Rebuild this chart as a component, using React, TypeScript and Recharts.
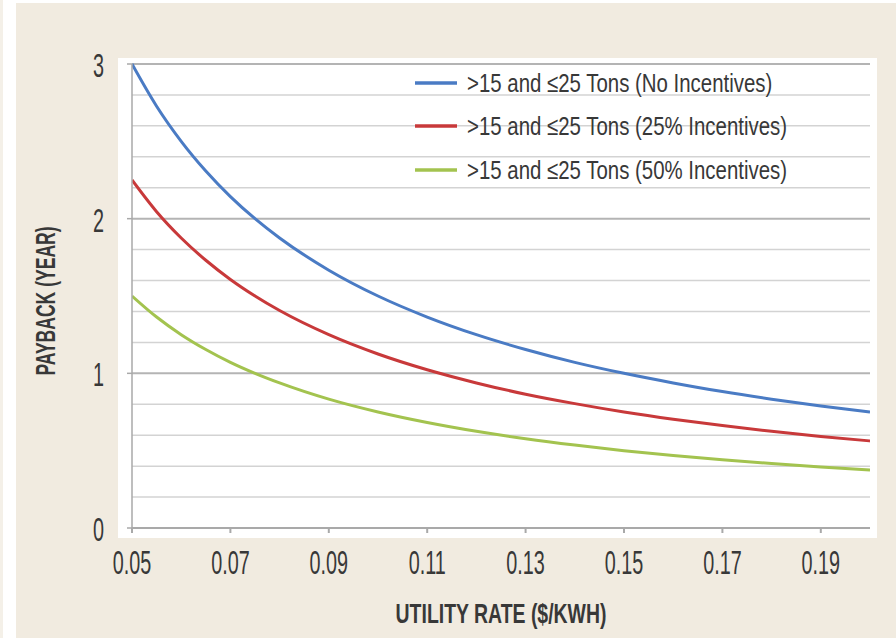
import React from "react";
import { LineChart, Line, XAxis, YAxis, ReferenceLine, Label, Legend } from "recharts";

const rates = [0.05, 0.055, 0.06, 0.065, 0.07, 0.075, 0.08, 0.09, 0.1, 0.11, 0.12, 0.13, 0.14, 0.15, 0.16, 0.17, 0.18, 0.19, 0.2];
const noIncentives = [3.0, 2.727, 2.5, 2.308, 2.143, 2.0, 1.875, 1.667, 1.5, 1.364, 1.25, 1.154, 1.071, 1.0, 0.938, 0.882, 0.833, 0.789, 0.75];
const incentives25 = [2.25, 2.045, 1.875, 1.731, 1.607, 1.5, 1.406, 1.25, 1.125, 1.023, 0.938, 0.865, 0.804, 0.75, 0.703, 0.662, 0.625, 0.592, 0.563];
const incentives50 = [1.5, 1.364, 1.25, 1.154, 1.071, 1.0, 0.938, 0.833, 0.75, 0.682, 0.625, 0.577, 0.536, 0.5, 0.469, 0.441, 0.417, 0.395, 0.375];

const seriesNames = [
  ">15 and \u226425 Tons (No Incentives)",
  ">15 and \u226425 Tons (25% Incentives)",
  ">15 and \u226425 Tons (50% Incentives)",
];
const seriesKeys = ["none", "p25", "p50"];
const seriesColors = ["#4a7bc4", "#c8393a", "#a3c34f"];

const xTicks = [0.05, 0.07, 0.09, 0.11, 0.13, 0.15, 0.17, 0.19];
const xTickLabels = ["0.05", "0.07", "0.09", "0.11", "0.13", "0.15", "0.17", "0.19"];
const yTicks = [0, 1, 2, 3];
const gridValues = [0.2, 0.4, 0.6, 0.8, 1, 1.2, 1.4, 1.6, 1.8, 2, 2.2, 2.4, 2.6, 2.8, 3];

const data = rates.map((r, i) => ({
  rate: r,
  none: noIncentives[i],
  p25: incentives25[i],
  p50: incentives50[i],
}));

const FONT = "'Liberation Sans Narrow', 'Liberation Sans', Arial, sans-serif";
const TEXT = "#383838";
const BEIGE = "#f1ebe0";
const AXIS = "#a9a9a9";

const XTick = (props: any) => {
  const { x, y, payload } = props;
  const idx = xTicks.indexOf(payload.value);
  return (
    <g transform={`translate(${x},${y + 39})`}>
      <text transform="scale(0.6,1)" textAnchor="middle" fontFamily={FONT} fontSize={33} fill={TEXT}>
        {idx >= 0 ? xTickLabels[idx] : String(payload.value)}
      </text>
    </g>
  );
};

const YTick = (props: any) => {
  const { x, y, payload } = props;
  return (
    <g transform={`translate(${x - 21},${y + 13})`}>
      <text transform="scale(0.6,1)" textAnchor="end" fontFamily={FONT} fontSize={33} fill={TEXT}>
        {String(payload.value)}
      </text>
    </g>
  );
};

const XTitle = (props: any) => {
  const vb = props.viewBox;
  return (
    <g transform={`translate(${vb.x + vb.width / 2},${vb.y + 95})`}>
      <text transform="scale(0.72,1)" textAnchor="middle" fontFamily={FONT} fontWeight="bold" fontSize={27} fill={TEXT}>
        UTILITY RATE ($/KWH)
      </text>
    </g>
  );
};

const YTitle = (props: any) => {
  const vb = props.viewBox;
  return (
    <g transform={`translate(${vb.x + 23},${vb.y + vb.height / 2 + 5}) rotate(-90)`}>
      <text transform="scale(0.65,1)" textAnchor="middle" fontFamily={FONT} fontWeight="bold" fontSize={27} fill={TEXT}>
        PAYBACK (YEAR)
      </text>
    </g>
  );
};

const LegendContent = () => (
  <div style={{ display: "flex", flexDirection: "column" }}>
    {seriesNames.map((name, i) => (
      <div key={name} style={{ height: 43.5, display: "flex", alignItems: "center" }}>
        <svg width={52} height={10} style={{ display: "block", flexShrink: 0 }}>
          <line x1={0} y1={5} x2={42} y2={5} stroke={seriesColors[i]} strokeWidth={3.5} />
        </svg>
        <span
          style={{
            fontFamily: FONT,
            fontSize: 26,
            color: TEXT,
            display: "inline-block",
            transform: "scaleX(0.785)",
            transformOrigin: "left center",
            whiteSpace: "nowrap",
            lineHeight: "26px",
          }}
        >
          {name}
        </span>
      </div>
    ))}
  </div>
);

export default function App() {
  return (
    <div style={{ position: "absolute", left: 0, top: 0, width: 896, height: 638, background: "#ffffff", overflow: "hidden" }}>
      <div style={{ position: "absolute", left: 0, top: 0, width: 3, height: 638, background: "#f4f0e8" }} />
      <div style={{ position: "absolute", left: 16, top: 3, width: 880, height: 635, background: BEIGE }} />
      <div style={{ position: "absolute", left: 118, top: 58, width: 759, height: 480, background: "#ffffff" }} />
      <div style={{ position: "absolute", left: 0, top: 0 }}>
        <LineChart width={896} height={638} data={data} margin={{ top: 64, right: 26, bottom: 50, left: 32 }}>
          {gridValues.map((v) => (
            <ReferenceLine
              key={v}
              y={v}
              stroke={Number.isInteger(v) ? "#b4b4b4" : "#d3d3d3"}
              strokeWidth={Number.isInteger(v) ? 2 : 1.5}
            />
          ))}
          <XAxis
            dataKey="rate"
            type="number"
            domain={[0.05, 0.2]}
            ticks={xTicks}
            allowDataOverflow
            height={60}
            stroke={AXIS}
            strokeWidth={2}
            tickSize={5}
            tick={<XTick />}
            interval={0}
          >
            <Label content={<XTitle />} />
          </XAxis>
          <YAxis
            type="number"
            domain={[0, 3]}
            ticks={yTicks}
            width={100}
            stroke={AXIS}
            strokeWidth={1.5}
            tickSize={5}
            tick={<YTick />}
            interval={0}
          >
            <Label content={<YTitle />} />
          </YAxis>
          <Legend
            layout="vertical"
            align="center"
            verticalAlign="middle"
            content={<LegendContent />}
            wrapperStyle={{ position: "absolute", left: 415, top: 61, width: 420, height: 131 }}
          />
          {seriesKeys.map((k, i) => (
            <Line
              key={k}
              type="monotone"
              dataKey={k}
              name={seriesNames[i]}
              stroke={seriesColors[i]}
              strokeWidth={3}
              dot={false}
              activeDot={false}
              isAnimationActive={false}
            />
          ))}
        </LineChart>
      </div>
    </div>
  );
}
